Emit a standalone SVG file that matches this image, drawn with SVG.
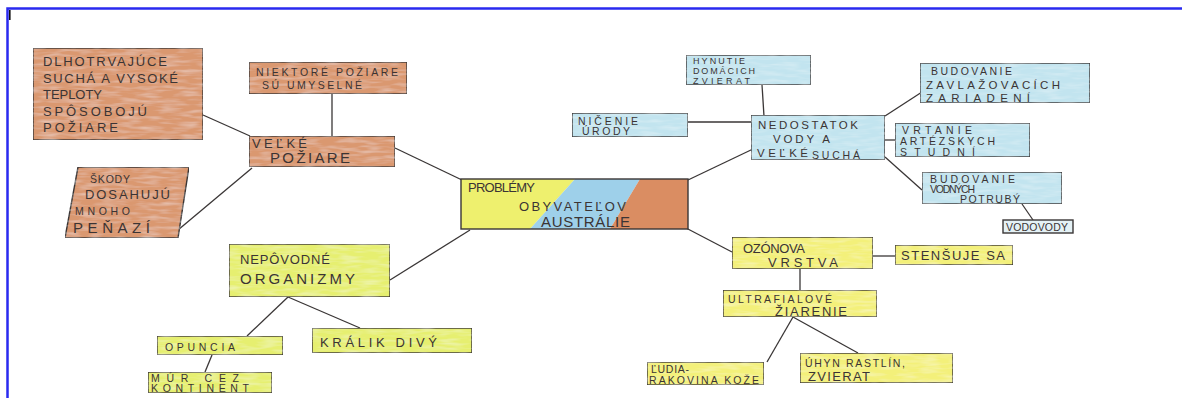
<svg xmlns="http://www.w3.org/2000/svg" width="1182" height="398" viewBox="0 0 1182 398">
<style>
.bx{stroke:#3a3636;stroke-width:1.4}
.or{fill:#da9870}
.ye{fill:#f3f07a}
.li{fill:#e6ef70}
.bl{fill:#c2e4ef}
.ln{stroke:#3a3636;stroke-width:1.3;fill:none}
text{font-family:"Liberation Sans","DejaVu Sans",sans-serif;fill:#3b3434;font-size:13px}
.s{font-size:10.5px}
.xs{font-size:9px}
.m{font-size:11.5px}
.b{font-size:15px}
</style>
<defs>
<filter id="tx" x="0" y="0" width="1" height="1">
<feTurbulence type="fractalNoise" baseFrequency="0.05 0.3" numOctaves="2" seed="3" result="n"/>
<feColorMatrix in="n" type="matrix" values="0 0 0 0 1  0 0 0 0 1  0 0 0 0 1  0 0 0 -0.6 0.35" result="w"/>
<feComposite in="w" in2="SourceGraphic" operator="atop"/>
</filter>
</defs>
<rect width="1182" height="398" fill="#fff"/>
<path d="M7.5 398V8.5H1182" fill="none" stroke="#2a2af0" stroke-width="2.5"/>
<rect x="9" y="10" width="1.6" height="10" fill="#111"/>

<g id="connectors">
<line class="ln" x1="203" y1="115" x2="250" y2="136"/>
<line class="ln" x1="332" y1="94" x2="332" y2="136"/>
<line class="ln" x1="178" y1="230" x2="252" y2="168"/>
<line class="ln" x1="395" y1="148" x2="462" y2="180"/>
<line class="ln" x1="470" y1="230" x2="390" y2="280"/>
<line class="ln" x1="288" y1="297" x2="247" y2="336"/>
<line class="ln" x1="288" y1="297" x2="360" y2="328"/>
<line class="ln" x1="212" y1="355" x2="205" y2="372"/>
<line class="ln" x1="688" y1="180" x2="753" y2="149"/>
<line class="ln" x1="686" y1="228" x2="732" y2="252"/>
<line class="ln" x1="762" y1="85" x2="764" y2="116"/>
<line class="ln" x1="688" y1="122" x2="752" y2="122"/>
<line class="ln" x1="885" y1="116" x2="922" y2="92"/>
<line class="ln" x1="885" y1="140" x2="895" y2="140"/>
<line class="ln" x1="885" y1="157" x2="922" y2="190"/>
<line class="ln" x1="1022" y1="204" x2="1033" y2="220"/>
<line class="ln" x1="873" y1="256" x2="895" y2="256"/>
<line class="ln" x1="800" y1="269" x2="800" y2="290"/>
<line class="ln" x1="793" y1="317" x2="767" y2="362"/>
<line class="ln" x1="793" y1="317" x2="858" y2="353"/>
</g>

<g id="n-dlhotrvajuce">
<rect class="bx or" x="33" y="48" width="170" height="92" filter="url(#tx)"/>
<text x="43" y="66" textLength="124">DLHOTRVAJÚCE</text>
<text x="43" y="83" textLength="135">SUCHÁ A VYSOKÉ</text>
<text x="43" y="99" textLength="59">TEPLOTY</text>
<text x="43" y="116" textLength="104">SPÔSOBOJÚ</text>
<text x="43" y="132" textLength="75">POŽIARE</text>
</g>
<g id="n-niektore">
<rect class="bx or" x="249" y="62" width="158" height="32" filter="url(#tx)"/>
<text class="s" x="256" y="76" textLength="142">NIEKTORÉ POŽIARE</text>
<text class="s" x="262" y="89" textLength="100">SÚ UMYSELNÉ</text>
</g>
<g id="n-velke-poziare">
<rect class="bx or" x="249" y="136" width="146" height="31" filter="url(#tx)"/>
<text x="252" y="148" textLength="55">VEĽKÉ</text>
<text class="b" x="270" y="163" textLength="80">POŽIARE</text>
</g>
<g id="n-skody">
<polygon class="bx or" points="78,167 189,167 178,238 65,238" filter="url(#tx)"/>
<text class="s" x="90" y="183" textLength="40">ŠKODY</text>
<text x="85" y="199" textLength="85">DOSAHUJÚ</text>
<text class="s" x="75" y="215" textLength="55">MNOHO</text>
<text class="b" x="73" y="233" textLength="77">PEŇAZÍ</text>
</g>

<g id="n-center">
<polygon fill="#eef06e" points="461,179 575,179 530,229 461,229"/>
<polygon fill="#9ed0ea" points="575,179 640,179 610,229 530,229"/>
<polygon fill="#da8d62" points="640,179 688,179 688,229 610,229"/>
<rect class="bx" x="461" y="179" width="227" height="50" fill="none"/>
<text x="468" y="192" textLength="67">PROBLÉMY</text>
<text x="519" y="211" textLength="107">OBYVATEĽOV</text>
<text class="b" x="541" y="227" textLength="89">AUSTRÁLIE</text>
</g>

<g id="n-nepovodne">
<rect class="bx li" x="229" y="244" width="161" height="53" filter="url(#tx)"/>
<text x="240" y="264" textLength="90">NEPÔVODNÉ</text>
<text class="b" x="240" y="284" textLength="115">ORGANIZMY</text>
</g>
<g id="n-opuncia">
<rect class="bx li" x="157" y="336" width="126" height="19" filter="url(#tx)"/>
<text class="s" x="165" y="351" textLength="70">OPUNCIA</text>
</g>
<g id="n-kralik">
<rect class="bx li" x="312" y="328" width="160" height="25" filter="url(#tx)"/>
<text x="320" y="347" textLength="117">KRÁLIK DIVÝ</text>
</g>
<g id="n-mur">
<rect class="bx li" x="148" y="372" width="124" height="21" filter="url(#tx)"/>
<text class="s" x="151" y="382" textLength="88">MÚR CEZ</text>
<text class="s" x="151" y="392" textLength="98">KONTINENT</text>
</g>

<g id="n-hynutie">
<rect class="bx bl" x="686" y="55" width="125" height="30" filter="url(#tx)"/>
<text class="xs" x="693" y="64" textLength="52">HYNUTIE</text>
<text class="xs" x="693" y="74" textLength="62">DOMÁCICH</text>
<text class="xs" x="693" y="83.5" textLength="57">ZVIERAT</text>
</g>
<g id="n-nicenie">
<rect class="bx bl" x="572" y="113" width="116" height="24" filter="url(#tx)"/>
<text class="s" x="578" y="125" textLength="60">NIČENIE</text>
<text class="s" x="582" y="135" textLength="48">ÚRODY</text>
</g>
<g id="n-nedostatok">
<rect class="bx bl" x="751" y="115" width="134" height="45" filter="url(#tx)"/>
<text class="m" x="758" y="129" textLength="100">NEDOSTATOK</text>
<text class="m" x="773" y="143" textLength="57">VODY A</text>
<text class="m" x="757" y="157" textLength="51">VEĽKÉ</text>
<text class="s" x="812" y="159" textLength="48">SUCHÁ</text>
</g>
<g id="n-zavlaz">
<rect class="bx bl" x="920" y="63" width="170" height="40" filter="url(#tx)"/>
<text class="s" x="931" y="75" textLength="81">BUDOVANIE</text>
<text class="m" x="926" y="89" textLength="134">ZAVLAŽOVACÍCH</text>
<text class="m" x="926" y="102" textLength="104">ZARIADENÍ</text>
</g>
<g id="n-vrtanie">
<rect class="bx bl" x="895" y="123" width="135" height="34" filter="url(#tx)"/>
<text class="s" x="902" y="134" textLength="70">VRTANIE</text>
<text class="s" x="900" y="145" textLength="95">ARTÉZSKYCH</text>
<text class="s" x="900" y="155.5" textLength="75">STUDNÍ</text>
</g>
<g id="n-potruby">
<rect class="bx bl" x="922" y="172" width="140" height="32" filter="url(#tx)"/>
<text class="s" x="930" y="183" textLength="85">BUDOVANIE</text>
<text class="s" x="930" y="193" textLength="45">VODNÝCH</text>
<text class="s" x="960" y="202.5" textLength="60">POTRUBÝ</text>
</g>
<g id="n-vodovody">
<rect class="bx" x="1003" y="220" width="70" height="13" fill="#e4f1f5"/>
<text class="s" x="1006" y="231" textLength="62">VODOVODY</text>
</g>

<g id="n-ozonova">
<rect class="bx ye" x="732" y="237" width="141" height="32" filter="url(#tx)"/>
<text x="743" y="253" textLength="62">OZÓNOVA</text>
<text x="768" y="267" textLength="70">VRSTVA</text>
</g>
<g id="n-stensuje">
<rect class="bx ye" x="895" y="245" width="118" height="20" filter="url(#tx)"/>
<text x="901" y="260" textLength="104">STENŠUJE SA</text>
</g>
<g id="n-ultrafialove">
<rect class="bx ye" x="723" y="290" width="154" height="27" filter="url(#tx)"/>
<text class="s" x="728" y="303" textLength="104">ULTRAFIALOVÉ</text>
<text x="775" y="316" textLength="72">ŽIARENIE</text>
</g>
<g id="n-ludia">
<rect class="bx ye" x="647" y="362" width="117" height="23" filter="url(#tx)"/>
<text class="s" x="651" y="373" textLength="38">ĽUDIA-</text>
<text class="s" x="649" y="384" textLength="110">RAKOVINA KOŽE</text>
</g>
<g id="n-uhyn">
<rect class="bx ye" x="800" y="353" width="153" height="30" filter="url(#tx)"/>
<text class="s" x="805" y="367" textLength="100">ÚHYN RASTLÍN,</text>
<text x="808" y="381" textLength="62">ZVIERAT</text>
</g>
</svg>
